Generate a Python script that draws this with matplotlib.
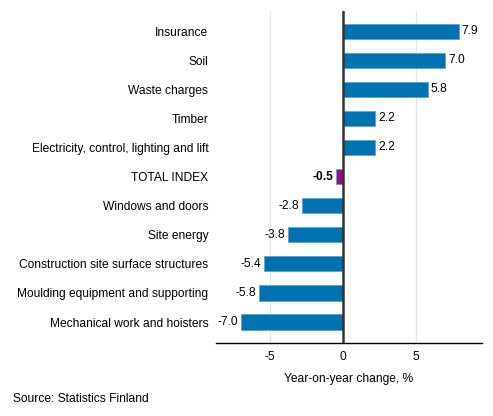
import matplotlib.pyplot as plt

plt.rcParams['font.family'] = ['Liberation Sans', 'DejaVu Sans']

categories = ['Insurance', 'Soil', 'Waste charges', 'Timber',
              'Electricity, control, lighting and lift', 'TOTAL INDEX',
              'Windows and doors', 'Site energy',
              'Construction site surface structures',
              'Moulding equipment and supporting',
              'Mechanical work and hoisters']
values = [7.9, 7.0, 5.8, 2.2, 2.2, -0.5, -2.8, -3.8, -5.4, -5.8, -7.0]

blue = '#0072b0'
purple = '#960b86'
colors = [purple if c == 'TOTAL INDEX' else blue for c in categories]
fs = 8.65

fig = plt.figure(figsize=(4.93, 4.16), dpi=100)
ax = fig.add_axes([0.438, 0.1755, 0.54, 0.798])

y = list(range(len(categories)))
ax.barh(y, values, height=0.52, color=colors, edgecolor='#5aa6d0',
        linewidth=0.6, zorder=3)
for yi, v, c in zip(y, values, categories):
    weight = 'bold' if c == 'TOTAL INDEX' else 'normal'
    if v >= 0:
        ax.text(v + 0.2, yi, f'{v:.1f}', va='center', ha='left',
                fontsize=fs, fontweight=weight)
    else:
        ax.text(v - 0.2, yi, f'{v:.1f}', va='center', ha='right',
                fontsize=fs, fontweight=weight)

ax.set_yticks(y)
ax.set_yticklabels(categories, fontsize=fs)
ax.set_ylim(10.72, -0.69)
ax.set_xlim(-8.72, 9.52)
ax.set_xticks([-5, 0, 5])
ax.set_xticklabels(['-5', '0', '5'], fontsize=fs)
ax.tick_params(axis='y', length=0, pad=5.5)
ax.tick_params(axis='x', length=0, pad=6)
ax.grid(axis='x', color='#e6e6e6', linewidth=1, zorder=0)
ax.axvline(0, color='#333333', linewidth=1.8, zorder=4)
for s in ['top', 'right', 'left']:
    ax.spines[s].set_visible(False)
ax.spines['bottom'].set_color('black')
ax.spines['bottom'].set_linewidth(1)
ax.set_xlabel('Year-on-year change, %', fontsize=fs, labelpad=7)

fig.text(0.027, 0.034, 'Source: Statistics Finland', fontsize=fs)

fig.savefig('out.png', dpi=100)
